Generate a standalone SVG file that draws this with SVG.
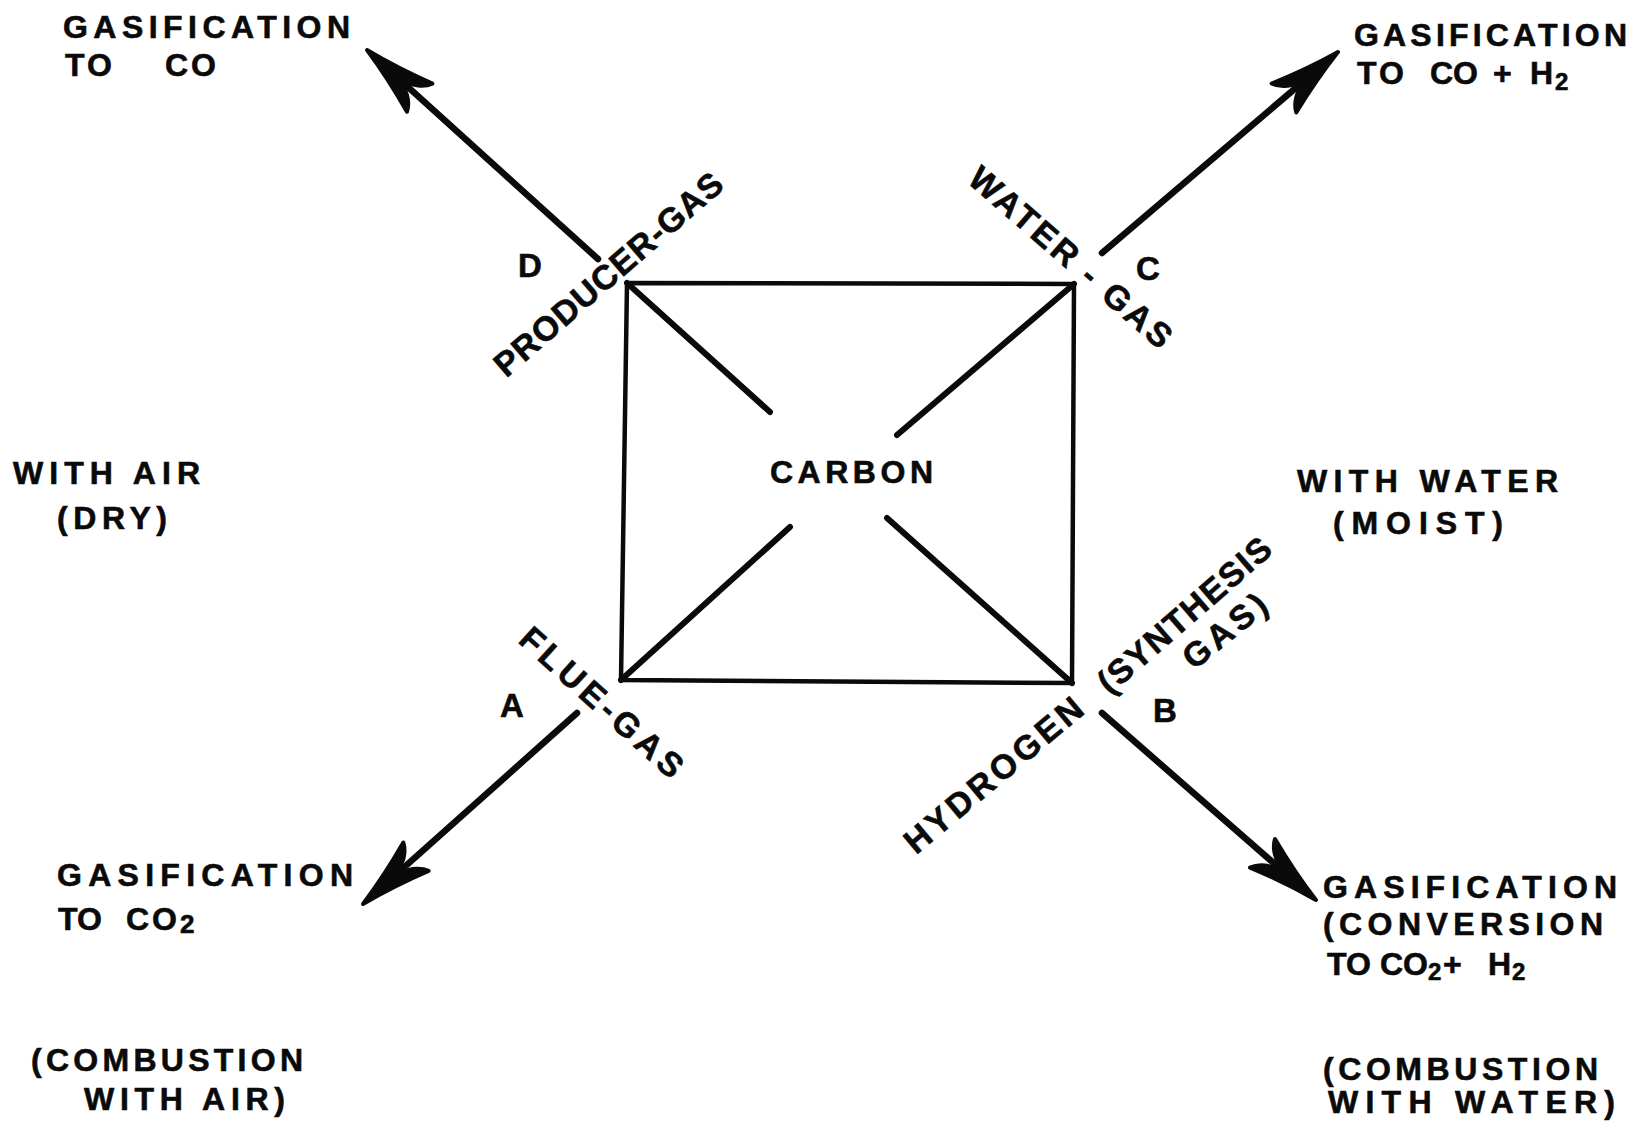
<svg xmlns="http://www.w3.org/2000/svg" width="1635" height="1121" viewBox="0 0 1635 1121">
<defs>
<style>
text{font-family:"Liberation Sans",Arial,Helvetica,sans-serif;font-weight:700;fill:#0a0a0a;stroke:#0a0a0a;stroke-width:0.6;}
.t{font-size:32px;}
.r{font-size:34px;}
.k{font-size:33px;}
.sub{font-size:24px;}
.ls{letter-spacing:3px;}
.box{fill:none;stroke:#0a0a0a;stroke-width:4.5;stroke-linejoin:miter;}
.diag{stroke:#0a0a0a;stroke-width:6;stroke-linecap:round;fill:none;}
.shaft{stroke:#0a0a0a;stroke-width:6.5;stroke-linecap:round;fill:none;}
</style>
<marker id="head" markerUnits="userSpaceOnUse" orient="auto" viewBox="-35 -35 100 70" markerWidth="100" markerHeight="70" refX="0" refY="0" overflow="visible">
<path d="M52,0 C32,-4 2,-12 -19,-19 C-16,-12 -8,-5 0,-3.5 L0,3.5 C-8,5 -16,12 -19,19 C2,12 32,4 52,0 Z" fill="#0a0a0a" stroke="#0a0a0a" stroke-width="4" stroke-linejoin="round"/>
</marker>
</defs>
<rect width="1635" height="1121" fill="#ffffff"/>

<g id="carbon">
<polygon class="box" points="627,283 1074,284 1072,683 621,680"/>
<line class="diag" x1="627" y1="283" x2="770" y2="412"/>
<line class="diag" x1="1074" y1="284" x2="897" y2="435"/>
<line class="diag" x1="621" y1="680" x2="790" y2="527"/>
<line class="diag" x1="1072" y1="683" x2="887" y2="518"/>
<text class="t" x="770" y="483" textLength="163" lengthAdjust="spacing">CARBON</text>
</g>

<g id="connectors">
<line class="shaft" x1="598" y1="259" x2="405.6" y2="84.9" marker-end="url(#head)"/>
<line class="shaft" x1="1102" y1="253" x2="1298.4" y2="85.7" marker-end="url(#head)"/>
<line class="shaft" x1="577" y1="713" x2="401.8" y2="869.4" marker-end="url(#head)"/>
<line class="shaft" x1="1102" y1="713" x2="1276.8" y2="865.8" marker-end="url(#head)"/>
</g>

<g id="node-d">
<text class="k" x="530" y="277" text-anchor="middle">D</text>
<text class="r" transform="translate(616,283) rotate(-41)" text-anchor="middle" textLength="291" lengthAdjust="spacing">PRODUCER-GAS</text>
<text class="t" x="63" y="38" textLength="287" lengthAdjust="spacing">GASIFICATION</text>
<text class="t ls" y="76"><tspan x="65">TO</tspan> <tspan x="165">CO</tspan></text>
</g>

<g id="node-c">
<text class="k" x="1148" y="280" text-anchor="middle">C</text>
<text class="r" transform="translate(1063,266) rotate(41)" text-anchor="middle" textLength="257" lengthAdjust="spacing">WATER - GAS</text>
<text class="t" x="1354" y="46" textLength="273" lengthAdjust="spacing">GASIFICATION</text>
<text class="t" y="84"><tspan x="1357" class="ls">TO</tspan> <tspan x="1430">CO</tspan> <tspan x="1493">+</tspan> <tspan x="1530">H</tspan><tspan class="sub" x="1555" dy="6">2</tspan></text>
</g>

<g id="node-a">
<text class="k" x="512" y="717" text-anchor="middle">A</text>
<text class="r" transform="translate(594,711) rotate(42)" text-anchor="middle" textLength="207" lengthAdjust="spacing">FLUE-GAS</text>
<text class="t" x="57" y="886" textLength="296" lengthAdjust="spacing">GASIFICATION</text>
<text class="t" y="930"><tspan x="58">TO</tspan> <tspan x="126" class="ls">CO</tspan><tspan class="sub" x="180" dy="3" style="font-size:26px">2</tspan></text>
</g>

<g id="node-b">
<text class="k" x="1165" y="722" text-anchor="middle">B</text>
<text class="r" transform="translate(1001,784) rotate(-40)" text-anchor="middle" textLength="222" lengthAdjust="spacing">HYDROGEN</text>
<text class="r" transform="translate(1192,624) rotate(-41)" text-anchor="middle" textLength="218" lengthAdjust="spacing">(SYNTHESIS</text>
<text class="r" transform="translate(1232,640) rotate(-39)" text-anchor="middle" textLength="98" lengthAdjust="spacing">GAS)</text>
<text class="t" x="1323" y="898" textLength="294" lengthAdjust="spacing">GASIFICATION</text>
<text class="t" x="1323" y="935" textLength="280" lengthAdjust="spacing">(CONVERSION</text>
<text class="t" y="975"><tspan x="1327">TO</tspan> <tspan x="1380">CO</tspan><tspan class="sub" x="1428" dy="5">2</tspan><tspan x="1443" dy="-5">+</tspan> <tspan x="1488">H</tspan><tspan class="sub" x="1512" dy="5">2</tspan></text>
</g>

<g id="side-air">
<text class="t" x="13" y="484" textLength="187" lengthAdjust="spacing">WITH AIR</text>
<text class="t" x="57" y="529" textLength="110" lengthAdjust="spacing">(DRY)</text>
<text class="t" x="31" y="1071" textLength="272" lengthAdjust="spacing">(COMBUSTION</text>
<text class="t" x="84" y="1110" textLength="201" lengthAdjust="spacing">WITH AIR)</text>
</g>

<g id="side-water">
<text class="t" x="1297" y="492" textLength="261" lengthAdjust="spacing">WITH WATER</text>
<text class="t" x="1333" y="534" textLength="170" lengthAdjust="spacing">(MOIST)</text>
<text class="t" x="1323" y="1080" textLength="275" lengthAdjust="spacing">(COMBUSTION</text>
<text class="t" x="1328" y="1113" textLength="287" lengthAdjust="spacing">WITH WATER)</text>
</g>
</svg>
